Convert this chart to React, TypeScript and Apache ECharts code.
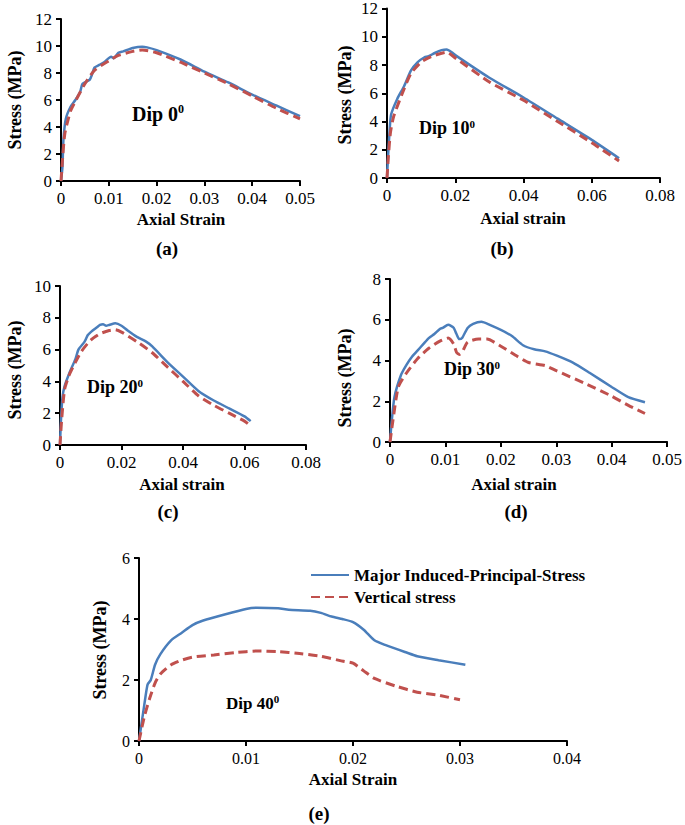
import React, { useEffect, useRef } from "react";
import * as echarts from "echarts";

// ---------- data (axial strain, stress MPa) ----------
const dip0Major: [number, number][] = [
  [0, 0], [0.0003, 1.0], [0.0005, 3.0], [0.001, 4.6], [0.002, 5.5], [0.003, 6.0], [0.004, 6.6],
  [0.0045, 7.2], [0.006, 7.5], [0.0065, 7.9], [0.007, 8.4], [0.008, 8.6], [0.009, 8.8],
  [0.0105, 9.2], [0.011, 9.1], [0.012, 9.5], [0.013, 9.6], [0.015, 9.85], [0.017, 9.95],
  [0.018, 9.9], [0.02, 9.7], [0.025, 9.0], [0.03, 8.1], [0.035, 7.3], [0.04, 6.4], [0.045, 5.6], [0.05, 4.8],
];
const dip0Vertical: [number, number][] = [
  [0, 0], [0.0003, 1.5], [0.0008, 3.5], [0.002, 5.2], [0.003, 5.9], [0.005, 7.2], [0.007, 8.2],
  [0.01, 8.9], [0.012, 9.3], [0.015, 9.6], [0.017, 9.7], [0.02, 9.5], [0.025, 8.8], [0.03, 8.0],
  [0.035, 7.2], [0.04, 6.3], [0.045, 5.4], [0.05, 4.6],
];
const dip10Major: [number, number][] = [
  [0, 0], [0.0003, 1.5], [0.0008, 3.5], [0.0012, 4.5], [0.003, 5.6], [0.005, 6.5], [0.007, 7.6],
  [0.009, 8.2], [0.011, 8.55], [0.012, 8.6], [0.014, 8.85], [0.016, 9.05], [0.0175, 9.1],
  [0.019, 8.9], [0.02, 8.7], [0.03, 7.1], [0.04, 5.7], [0.05, 4.2], [0.06, 2.7], [0.068, 1.4],
];
const dip10Vertical: [number, number][] = [
  [0, 0], [0.0004, 1.5], [0.001, 3.2], [0.002, 4.4], [0.005, 6.3], [0.007, 7.4], [0.01, 8.2],
  [0.013, 8.6], [0.0175, 8.9], [0.02, 8.5], [0.03, 6.8], [0.04, 5.5], [0.05, 4.0], [0.06, 2.5], [0.068, 1.2],
];
const dip20Major: [number, number][] = [
  [0, 0], [0.0003, 1.5], [0.0008, 3.0], [0.0015, 3.7], [0.003, 4.5], [0.005, 5.4], [0.006, 6.0],
  [0.008, 6.5], [0.009, 6.9], [0.01, 7.1], [0.012, 7.4], [0.013, 7.55], [0.014, 7.6], [0.015, 7.5],
  [0.016, 7.55], [0.018, 7.65], [0.02, 7.5], [0.022, 7.2], [0.025, 6.8], [0.028, 6.5], [0.03, 6.2],
  [0.035, 5.2], [0.04, 4.3], [0.045, 3.4], [0.05, 2.8], [0.055, 2.3], [0.06, 1.8], [0.062, 1.5],
];
const dip20Vertical: [number, number][] = [
  [0, 0], [0.0005, 1.5], [0.0015, 3.5], [0.003, 4.4], [0.005, 5.2], [0.007, 5.9], [0.01, 6.6],
  [0.013, 7.0], [0.016, 7.2], [0.018, 7.25], [0.02, 7.1], [0.025, 6.5], [0.03, 5.8], [0.035, 4.9],
  [0.04, 4.0], [0.045, 3.1], [0.05, 2.5], [0.055, 2.0], [0.06, 1.5], [0.062, 1.2],
];
const dip30Major: [number, number][] = [
  [0, 0], [0.0003, 1.0], [0.0008, 2.2], [0.002, 3.3], [0.003, 3.8], [0.004, 4.2], [0.005, 4.5],
  [0.006, 4.8], [0.007, 5.1], [0.008, 5.3], [0.009, 5.55], [0.0095, 5.6], [0.0105, 5.75],
  [0.011, 5.7], [0.0115, 5.6], [0.012, 5.3], [0.0125, 5.05], [0.013, 5.1], [0.014, 5.6],
  [0.015, 5.8], [0.0165, 5.9], [0.018, 5.75], [0.02, 5.5], [0.022, 5.2], [0.024, 4.75],
  [0.026, 4.55], [0.028, 4.45], [0.03, 4.25], [0.033, 3.9], [0.036, 3.4], [0.04, 2.7], [0.043, 2.2], [0.046, 1.95],
];
const dip30Vertical: [number, number][] = [
  [0, 0], [0.0005, 1.0], [0.0015, 2.7], [0.003, 3.4], [0.005, 4.1], [0.007, 4.6], [0.009, 4.95],
  [0.0105, 5.1], [0.0115, 4.8], [0.012, 4.4], [0.0125, 4.3], [0.013, 4.4], [0.014, 4.9],
  [0.016, 5.05], [0.0175, 5.05], [0.02, 4.7], [0.023, 4.2], [0.025, 3.9], [0.028, 3.75],
  [0.03, 3.5], [0.035, 2.9], [0.04, 2.25], [0.043, 1.8], [0.046, 1.4],
];
const dip40Major: [number, number][] = [
  [0, 0], [0.0005, 1.2], [0.0008, 1.85], [0.0011, 2.0], [0.0015, 2.5], [0.002, 2.85], [0.003, 3.3],
  [0.004, 3.55], [0.005, 3.8], [0.006, 3.95], [0.008, 4.15], [0.01, 4.33], [0.011, 4.37],
  [0.013, 4.35], [0.014, 4.3], [0.016, 4.27], [0.017, 4.2], [0.018, 4.08], [0.019, 4.0],
  [0.02, 3.9], [0.021, 3.65], [0.022, 3.3], [0.023, 3.15], [0.025, 2.9], [0.026, 2.78],
  [0.028, 2.65], [0.0305, 2.5],
];
const dip40Vertical: [number, number][] = [
  [0, 0], [0.0005, 0.8], [0.001, 1.4], [0.0015, 1.9], [0.002, 2.2], [0.003, 2.5], [0.004, 2.65],
  [0.005, 2.75], [0.007, 2.82], [0.009, 2.9], [0.011, 2.95], [0.013, 2.93], [0.015, 2.87],
  [0.017, 2.78], [0.019, 2.62], [0.02, 2.55], [0.021, 2.3], [0.022, 2.05], [0.024, 1.8],
  [0.026, 1.6], [0.028, 1.5], [0.03, 1.35],
];

const xMaxes = [0.05, 0.08, 0.08, 0.05, 0.04];
const xSteps = [0.01, 0.02, 0.02, 0.01, 0.01];
const yMaxes = [12, 12, 10, 8, 6];
const yStep = 2;
const xTitles = ["Axial Strain", "Axial strain", "Axial strain", "Axial strain", "Axial Strain"];
const panelTags = ["(a)", "(b)", "(c)", "(d)", "(e)"];
const dipAngles = ["0", "10", "20", "30", "40"];
const majorName = "Major Induced-Principal-Stress";
const verticalName = "Vertical stress";
const majorSets = [dip0Major, dip10Major, dip20Major, dip30Major, dip40Major];
const verticalSets = [dip0Vertical, dip10Vertical, dip20Vertical, dip30Vertical, dip40Vertical];

// ---------- layout ----------
const FONT = "Liberation Serif";
const BLUE = "#4A7EBB";
const RED = "#C0504D";
const grids = [
  { left: 61, top: 19, width: 239, height: 162 },
  { left: 387, top: 7, width: 273, height: 171 },
  { left: 60, top: 286, width: 246, height: 159 },
  { left: 390, top: 279, width: 278, height: 163 },
  { left: 139, top: 558, width: 428, height: 183 },
];
const tickFont = [17, 17, 17, 17, 16];
const xTitlePos = [[181, 219], [523, 218], [182, 484], [514, 484], [353, 779]];
const yTitlePos = [[15, 100], [345, 95], [15, 370], [345, 378], [100, 650]];
const tagPos = [[167, 248], [502, 248], [168, 511], [516, 511], [319, 813]];
const dipPos = [[132, 114], [419, 128], [87, 387], [444, 369], [226, 703]];
const dipFont = [20, 18, 18, 18, 17];

const fmt = (v: number) => (v === 0 ? "0" : String(+v.toFixed(2)));

const txt = (size: number, bold = true) => ({
  fontFamily: FONT, fontSize: size, fontWeight: bold ? "bold" : "normal", fill: "#000",
});

export default function App() {
  const ref = useRef<HTMLDivElement>(null);
  useEffect(() => {
    if (!ref.current) return;
    const chart = echarts.init(ref.current, null, { renderer: "svg" });
    const axisLine = { lineStyle: { color: "#000", width: 2 } };
    const axisTick = { inside: false, length: 5, lineStyle: { color: "#000", width: 2 } };
    const graphics: any[] = [];
    grids.forEach((_, i) => {
      graphics.push({
        type: "text", x: xTitlePos[i][0], y: xTitlePos[i][1],
        style: { text: xTitles[i], ...txt(17), align: "center", verticalAlign: "middle" },
      });
      graphics.push({
        type: "text", x: yTitlePos[i][0], y: yTitlePos[i][1], rotation: Math.PI / 2,
        style: { text: "Stress (MPa)", ...txt(18), align: "center", verticalAlign: "middle" },
      });
      graphics.push({
        type: "text", x: tagPos[i][0], y: tagPos[i][1],
        style: { text: panelTags[i], ...txt(19), align: "center", verticalAlign: "middle" },
      });
      graphics.push({
        type: "text", x: dipPos[i][0], y: dipPos[i][1],
        style: {
          text: `{m|Dip ${dipAngles[i]}}{s|0}`, align: "left", verticalAlign: "middle",
          rich: {
            m: { ...txt(dipFont[i]), lineHeight: dipFont[i] + 2 },
            s: { ...txt(Math.round(dipFont[i] * 0.62)), verticalAlign: "top", lineHeight: dipFont[i] + 2 },
          },
        },
      });
    });
    const option: any = {
      animation: false,
      backgroundColor: "#fff",
      textStyle: { fontFamily: FONT },
      grid: grids.map((g) => ({ ...g, containLabel: false })),
      xAxis: grids.map((_, i) => ({
        type: "value", gridIndex: i, min: 0, max: xMaxes[i], interval: xSteps[i],
        axisLine, axisTick, splitLine: { show: false },
        axisLabel: { color: "#000", fontFamily: FONT, fontSize: tickFont[i], margin: 9, formatter: fmt, showMaxLabel: true },
      })),
      yAxis: grids.map((_, i) => ({
        type: "value", gridIndex: i, min: 0, max: yMaxes[i], interval: yStep,
        axisLine: { show: true, ...axisLine }, axisTick: { show: true, ...axisTick }, splitLine: { show: false },
        axisLabel: { color: "#000", fontFamily: FONT, fontSize: tickFont[i], margin: 9 },
      })),
      legend: {
        orient: "vertical", left: 305, top: 560, itemWidth: 38, itemHeight: 14, itemGap: 2,
        data: [majorName, verticalName],
        itemStyle: { opacity: 0 },
        textStyle: { fontFamily: FONT, fontWeight: "bold", fontSize: 17, color: "#000", lineHeight: 20 },
      },
      series: grids.flatMap((_, i) => [
        {
          type: "line", name: majorName, xAxisIndex: i, yAxisIndex: i, data: majorSets[i],
          showSymbol: false, symbol: "none", smooth: 0.2,
          lineStyle: { color: BLUE, width: 2.5 }, itemStyle: { color: BLUE },
        },
        {
          type: "line", name: verticalName, xAxisIndex: i, yAxisIndex: i, data: verticalSets[i],
          showSymbol: false, symbol: "none", smooth: 0.2,
          lineStyle: { color: RED, width: 3, type: [9, 5] }, itemStyle: { color: RED },
        },
      ]),
      graphic: graphics,
    };
    chart.setOption(option);
    return () => chart.dispose();
  }, []);
  return <div ref={ref} style={{ position: "absolute", left: 0, top: 0, width: 685, height: 825, background: "#fff" }} />;
}
